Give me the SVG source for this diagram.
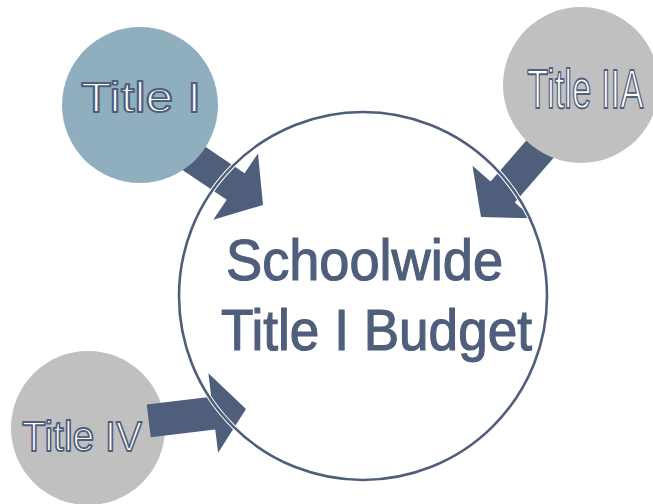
<svg xmlns="http://www.w3.org/2000/svg" width="653" height="504" viewBox="0 0 653 504">
  <defs>
    <style>
      .arrow { fill: #4f5e7b; }
      .small { fill: #ffffff; stroke: #4f5e7b; stroke-width: 1.8; stroke-linejoin: round; font-family: "Liberation Sans", Arial, sans-serif; }
      .main { fill: #4f5e7b; stroke: #4f5e7b; stroke-width: 1.2; font-family: "Liberation Sans", Arial, sans-serif; font-size: 57px; }
    </style>
    <polygon id="arr" points="-112,-16 -33,-16 -33,-40 0,0 -33,40 -33,16 -112,16"/>
    <polygon id="arrShort" points="-98,-16.5 -33,-16.5 -33,-40 0,0 -33,40 -33,16.5 -98,16.5"/>
  </defs>
  <rect width="653" height="504" fill="#ffffff"/>

  <g id="connectors">
    <use href="#arr" class="arrow" transform="translate(263,205) rotate(34)"/>
    <use href="#arr" class="arrow" transform="translate(481,217) rotate(131)"/>
  </g>

  <g id="title-iv">
    <circle cx="88" cy="428" r="77" fill="#c0c0c0"/>
  </g>
  <g id="connector-iv">
    <use href="#arrShort" class="arrow" transform="translate(246,409) rotate(-7)"/>
  </g>
  <g id="title-iv-label">
    <text class="small" x="22" y="451" font-size="43" textLength="120" lengthAdjust="spacingAndGlyphs">Title IV</text>
  </g>

  <g id="budget">
    <circle cx="363" cy="296" r="184" fill="none" stroke="#ffffff" stroke-width="4.6"/>
    <circle cx="363" cy="296" r="184" fill="none" stroke="#4f5e7b" stroke-width="2.6"/>
    <text class="main" x="226" y="280" textLength="277" lengthAdjust="spacingAndGlyphs">Schoolwide</text>
    <text class="main" x="221" y="350" textLength="311" lengthAdjust="spacingAndGlyphs">Title I Budget</text>
  </g>

  <g id="title-i">
    <circle cx="140" cy="105" r="78" fill="#8fafbf"/>
    <text class="small" x="81" y="112" font-size="42" textLength="120" lengthAdjust="spacingAndGlyphs">Title I</text>
  </g>

  <g id="title-iia">
    <circle cx="581" cy="85" r="78" fill="#c0c0c0"/>
    <text class="small" transform="translate(527,108) scale(0.62,1)" x="0" y="0" font-size="56" stroke-width="2.4">Title IIA</text>
  </g>
</svg>
